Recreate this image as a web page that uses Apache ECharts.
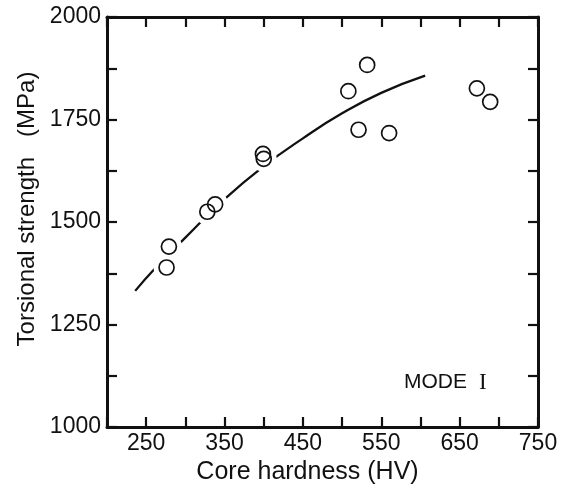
<!DOCTYPE html>
<html>
<head>
<meta charset="utf-8">
<script src="https://cdn.jsdelivr.net/npm/echarts@6/dist/echarts.min.js"></script>
<style>
  html, body { margin: 0; padding: 0; background: #fff; }
  #chart { width: 570px; height: 490px; }
</style>
</head>
<body>
<div id="chart"></div>
<script>
// measured points (core hardness HV, torsional strength MPa)
const hardness = [276, 279, 328, 338, 399, 400, 508, 521, 532, 560, 672, 689]
const strength = [1389, 1440, 1525, 1543, 1666, 1654, 1819, 1725, 1883, 1717, 1826, 1793]

// trend curve
const fitHardness = [236, 260, 300, 350, 400, 450, 500, 550, 606]
const fitStrength = [1332, 1384, 1462, 1556, 1636, 1704, 1765, 1815, 1857]

const xLabels = [250, 350, 450, 550, 650, 750]
const yLabels = [1000, 1250, 1500, 1750, 2000]

const ink = '#111'
const sans = '"Liberation Sans", Arial, Helvetica, sans-serif'

const pts = hardness.map((h, i) => [h, strength[i]])
const fit = fitHardness.map((h, i) => [h, fitStrength[i]])

const chart = echarts.init(document.getElementById('chart'), null, { renderer: 'canvas' })

const baseX = {
  type: 'value', min: 200, max: 750, interval: 50,
  axisLine: { show: true, onZero: false, lineStyle: { color: ink, width: 3 } },
  axisTick: { show: true, inside: true, length: 10, lineStyle: { color: ink, width: 2.2 } },
  splitLine: { show: false },
}
const baseY = {
  type: 'value', min: 1000, max: 2000, interval: 125,
  axisLine: { show: true, onZero: false, lineStyle: { color: ink, width: 3 } },
  axisTick: { show: true, inside: true, length: 10, lineStyle: { color: ink, width: 2.2 } },
  splitLine: { show: false },
}

chart.setOption({
  backgroundColor: '#fff',
  animation: false,
  grid: { left: 107, right: 32, top: 17, bottom: 60 },
  xAxis: [
    {
      ...baseX,
      position: 'bottom',
      name: 'Core hardness (HV)',
      nameLocation: 'middle',
      nameGap: 33,
      nameTextStyle: { color: ink, fontSize: 25, fontFamily: sans, padding: [0, 30, 0, 0] },
      axisLabel: {
        color: ink, fontSize: 23, fontFamily: sans, margin: 5,
        formatter: (v) => (xLabels.includes(v) ? String(v) : ''),
      },
    },
    { ...baseX, position: 'top', axisLabel: { show: false } },
  ],
  yAxis: [
    {
      ...baseY,
      position: 'left',
      name: 'Torsional strength   (MPa)',
      nameLocation: 'middle',
      nameGap: 66,
      nameTextStyle: { color: ink, fontSize: 24, fontFamily: sans, padding: [0, 0, 0, 26] },
      axisLabel: {
        color: ink, fontSize: 23, fontFamily: sans, margin: 6,
        formatter: (v) => (yLabels.includes(v) ? String(v) : ''),
      },
    },
    { ...baseY, position: 'right', axisLabel: { show: false } },
  ],
  graphic: [
    {
      type: 'text',
      left: 404,
      top: 371,
      style: {
        text: 'MODE{r|I}',
        fill: ink,
        font: '21px ' + sans,
        rich: { r: { fontFamily: '"Liberation Serif", "DejaVu Serif", serif', fontSize: 23, padding: [0, 0, 0, 12], fill: ink } },
      },
    },
  ],
  series: [
    {
      type: 'line',
      data: fit,
      smooth: true,
      showSymbol: false,
      lineStyle: { color: ink, width: 2.3 },
      z: 2,
    },
    {
      // white halos that break the curve around each circle
      type: 'scatter',
      data: pts,
      symbol: 'circle',
      symbolSize: 26,
      itemStyle: { color: '#fff', opacity: 1 },
      z: 3,
      silent: true,
    },
    {
      type: 'scatter',
      data: pts,
      symbol: 'circle',
      symbolSize: 15,
      itemStyle: { color: 'rgba(255,255,255,0)', borderColor: ink, borderWidth: 1.7, opacity: 1 },
      z: 4,
    },
  ],
})
</script>
</body>
</html>
